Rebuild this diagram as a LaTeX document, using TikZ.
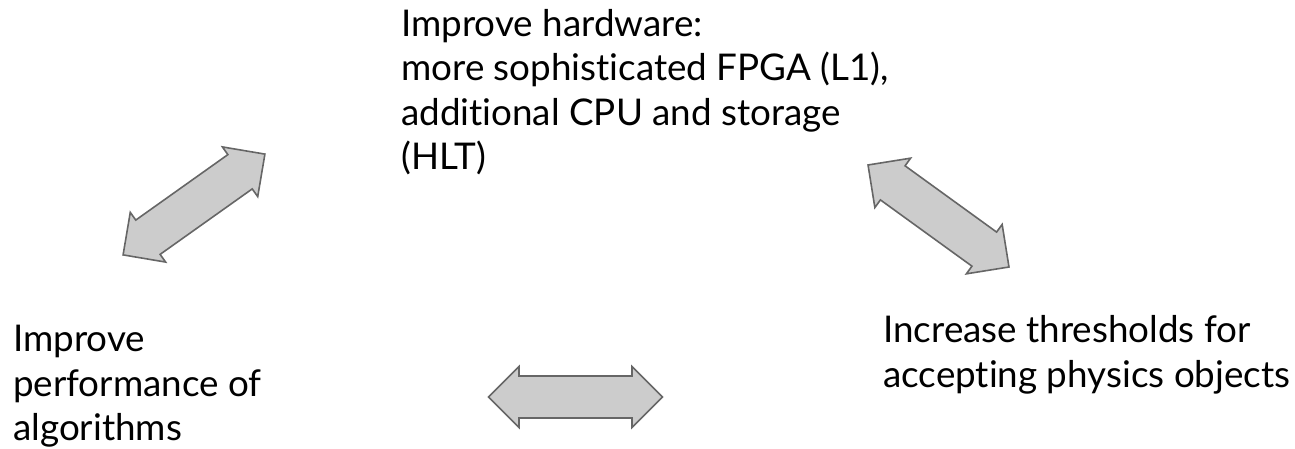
\documentclass[tikz,border=0pt]{standalone}
\usepackage{fontspec}
\setmainfont{Lato}[Ligatures={NoCommon}]
\usepackage{tikz}
\usetikzlibrary{arrows,shapes}
\definecolor{arrfill}{HTML}{CCCCCC}
\definecolor{arrdraw}{HTML}{666666}
\tikzset{
  textblock/.style = {align=left, inner sep=0pt, anchor=base west,
    font=\fontsize{36.8}{44.5}\selectfont},% bloc de texte, ancre sur la derniere ligne
  dbl_arr/.style = {double arrow, draw=arrdraw, fill=arrfill, line width=1.6pt,
    inner sep=15pt, minimum width=61pt, minimum height=174pt,
    double arrow tip angle=90}% fleche double grise
}
\begin{document}
\begin{tikzpicture}[x=1pt,y=1pt]
\useasboundingbox (0,0) rectangle (1295,449);
\node [textblock] (hw) at (401,279) {Improve hardware:\\
  more sophisticated FPGA (L1),\\
  additional CPU and storage\\
  (HLT)};
\node [textblock] (algo) at (13,8) {Improve\\ performance of\\ algorithms};
\node [textblock] (thr) at (883,61.5) {Increase thresholds for\\
  accepting physics objects};
\node [dbl_arr, rotate=35.4] (a_hw_algo) at (194,244.5) {};
\node [dbl_arr, rotate=-35.9] (a_hw_thr) at (938.5,233) {};
\node [dbl_arr] (a_algo_thr) at (575.5,52) {};
\end{tikzpicture}
\end{document}
